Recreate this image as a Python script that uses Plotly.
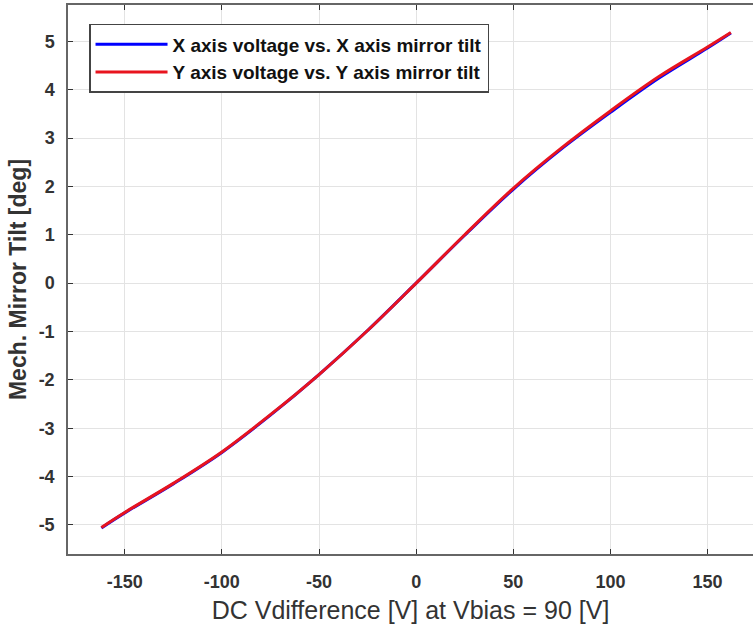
import plotly.graph_objects as go

# Data
voltage_x = [-162, -150, -125, -100, -75, -50, -25, 0, 25, 50, 75, 100, 125, 150, 162]
tilt_x = [-5.06, -4.75, -4.15, -3.50, -2.73, -1.89, -0.98, 0.0, 0.99, 1.94, 2.78, 3.53, 4.24, 4.86, 5.17]
voltage_y = [-162, -150, -125, -100, -75, -50, -25, 0, 25, 50, 75, 100, 125, 150, 162]
tilt_y = [-5.05, -4.74, -4.14, -3.49, -2.72, -1.89, -0.98, 0.0, 1.00, 1.96, 2.80, 3.56, 4.27, 4.88, 5.18]

x_ticks = [-150, -100, -50, 0, 50, 100, 150]
y_ticks = [-5, -4, -3, -2, -1, 0, 1, 2, 3, 4, 5]

series_names = ["X axis voltage vs. X axis mirror tilt", "Y axis voltage vs. Y axis mirror tilt"]

FONT = "Liberation Sans, Arial, sans-serif"

fig = go.Figure()
fig.add_trace(go.Scatter(x=voltage_x, y=tilt_x, mode="lines", name=series_names[0],
                         line=dict(color="#0000ff", width=3, shape="spline", smoothing=1.0)))
fig.add_trace(go.Scatter(x=voltage_y, y=tilt_y, mode="lines", name=series_names[1],
                         line=dict(color="#e8141e", width=3, shape="spline", smoothing=1.0)))

fig.update_layout(
    width=753, height=626,
    margin=dict(l=68, r=0, t=5, b=72, autoexpand=False),
    paper_bgcolor="white", plot_bgcolor="white",
    font=dict(family=FONT, color="#222222"),
    legend=dict(
        x=0.0307, y=0.9654, xanchor="left", yanchor="top",
        bgcolor="white", bordercolor="#444444", borderwidth=1.5,
        font=dict(family=FONT, size=19, color="#111111", weight="bold"),
        itemwidth=72, tracegroupgap=0,
    ),
    xaxis=dict(
        range=[-179.2, 173.4], automargin=False,
        tickmode="array", tickvals=x_ticks, ticktext=[str(v) for v in x_ticks],
        ticks="inside", ticklen=5, tickwidth=1.2, tickcolor="#333333",
        showline=True, linecolor="#666666", linewidth=1.5, mirror="ticks",
        showgrid=True, gridcolor="#e3e3e3", gridwidth=1,
        zeroline=False,
        tickfont=dict(size=18, color="#333333", weight="bold", family=FONT),
        ticklabelstandoff=11,
        title=dict(text="DC Vdifference [V] at Vbias = 90 [V]", standoff=10,
                   font=dict(size=25, color="#333333", family=FONT)),
    ),
    yaxis=dict(
        range=[-5.6, 5.75], automargin=False,
        tickmode="array", tickvals=y_ticks, ticktext=[str(v) for v in y_ticks],
        ticks="inside", ticklen=5, tickwidth=1.2, tickcolor="#333333",
        showline=True, linecolor="#666666", linewidth=1.5, mirror=False,
        showgrid=True, gridcolor="#e3e3e3", gridwidth=1,
        zeroline=False,
        tickfont=dict(size=18, color="#333333", weight="bold", family=FONT),
        ticklabelstandoff=8,
        title=dict(text="Mech. Mirror Tilt [deg]", standoff=6,
                   font=dict(size=23, color="#333333", weight="bold", family=FONT)),
    ),
)

fig.write_html("out.html", config={"displayModeBar": False},
               post_script="document.body.style.margin='0';")
